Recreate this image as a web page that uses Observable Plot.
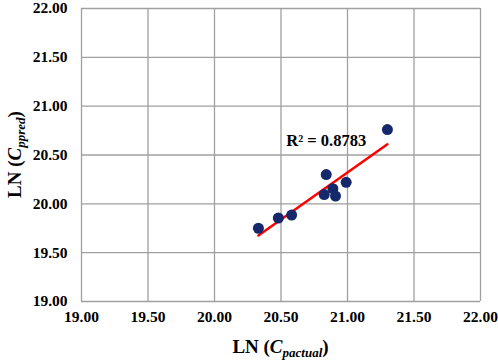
<!DOCTYPE html>
<html><head><meta charset="utf-8">
<script src="https://cdn.jsdelivr.net/npm/d3@7"></script>
<script src="https://cdn.jsdelivr.net/npm/@observablehq/plot@0.6"></script>
<style>
body{margin:0;background:#fff;}
#chart svg{display:block;}
#chart svg text{font-family:'Liberation Serif','Times New Roman',serif !important;font-weight:bold !important;}
</style>
</head><body><div id="chart"></div>
<script>
const actual = [20.33, 20.48, 20.58, 20.84, 20.825, 20.89, 20.91, 20.99, 21.30];
const predicted = [19.75, 19.855, 19.885, 20.30, 20.095, 20.155, 20.08, 20.22, 20.76];
const ticks = [19.0, 19.5, 20.0, 20.5, 21.0, 21.5, 22.0];
const r2Label = "R\u00b2 = 0.8783";
const r2Pos = {x: 20.84, y: 20.65};

const data = actual.map((a, i) => ({actual: a, predicted: predicted[i]}));
const font = "'Liberation Serif','Times New Roman',serif";
const fmt = d => d.toFixed(2);

const plot = Plot.plot({
  width: 498, height: 361,
  marginLeft: 81, marginRight: 18, marginTop: 8, marginBottom: 60,
  style: {fontFamily: font, fontSize: "15px", fontWeight: "bold", color: "#000", background: "#fff"},
  x: {domain: [19, 22], label: null, axis: null},
  y: {domain: [19, 22], label: null, axis: null},
  marks: [
    Plot.gridX(ticks, {stroke: "#a0a0a0", strokeOpacity: 1, strokeWidth: 1.3}),
    Plot.gridY(ticks, {stroke: "#a0a0a0", strokeOpacity: 1, strokeWidth: 1.3}),
    Plot.linearRegressionY(data, {x: "actual", y: "predicted", stroke: "#ff0000", strokeWidth: 2.5, ci: 0}),
    Plot.dot(data, {x: "actual", y: "predicted", r: 5.5, fill: "#14286b", stroke: "none"}),
    Plot.text([r2Pos], {x: "x", y: "y", text: () => r2Label, fontSize: 16.5, fill: "#000"}),
    Plot.text(ticks, {x: d => d, frameAnchor: "bottom", dy: 20, text: fmt, fontSize: 15.5, fontFamily: font, fontWeight: "bold", fill: "#000"}),
    Plot.text(ticks, {y: d => d, frameAnchor: "left", dx: -14, textAnchor: "end", text: fmt, fontSize: 15.5, fontFamily: font, fontWeight: "bold", fill: "#000"})
  ]
});
document.getElementById("chart").appendChild(plot);

const svg = d3.select(plot);
const midX = (81 + (498 - 18)) / 2;
const midY = (8 + (361 - 60)) / 2;

function addLabel(g, sub) {
  g.append("tspan").text("LN (");
  g.append("tspan").attr("font-style", "italic").text("C");
  g.append("tspan").attr("font-style", "italic").attr("font-size", "13px").attr("dy", "3.5").text(sub);
  g.append("tspan").attr("dy", "-3.5").text(")");
}
const xl = svg.append("text")
  .attr("x", midX).attr("y", 353)
  .attr("text-anchor", "middle")
  .attr("font-size", "19px").attr("fill", "#000");
addLabel(xl, "pactual");

const yl = svg.append("text")
  .attr("transform", `translate(21,${midY}) rotate(-90)`)
  .attr("text-anchor", "middle")
  .attr("font-size", "19px").attr("fill", "#000");
addLabel(yl, "ppred");
</script>
</body></html>
